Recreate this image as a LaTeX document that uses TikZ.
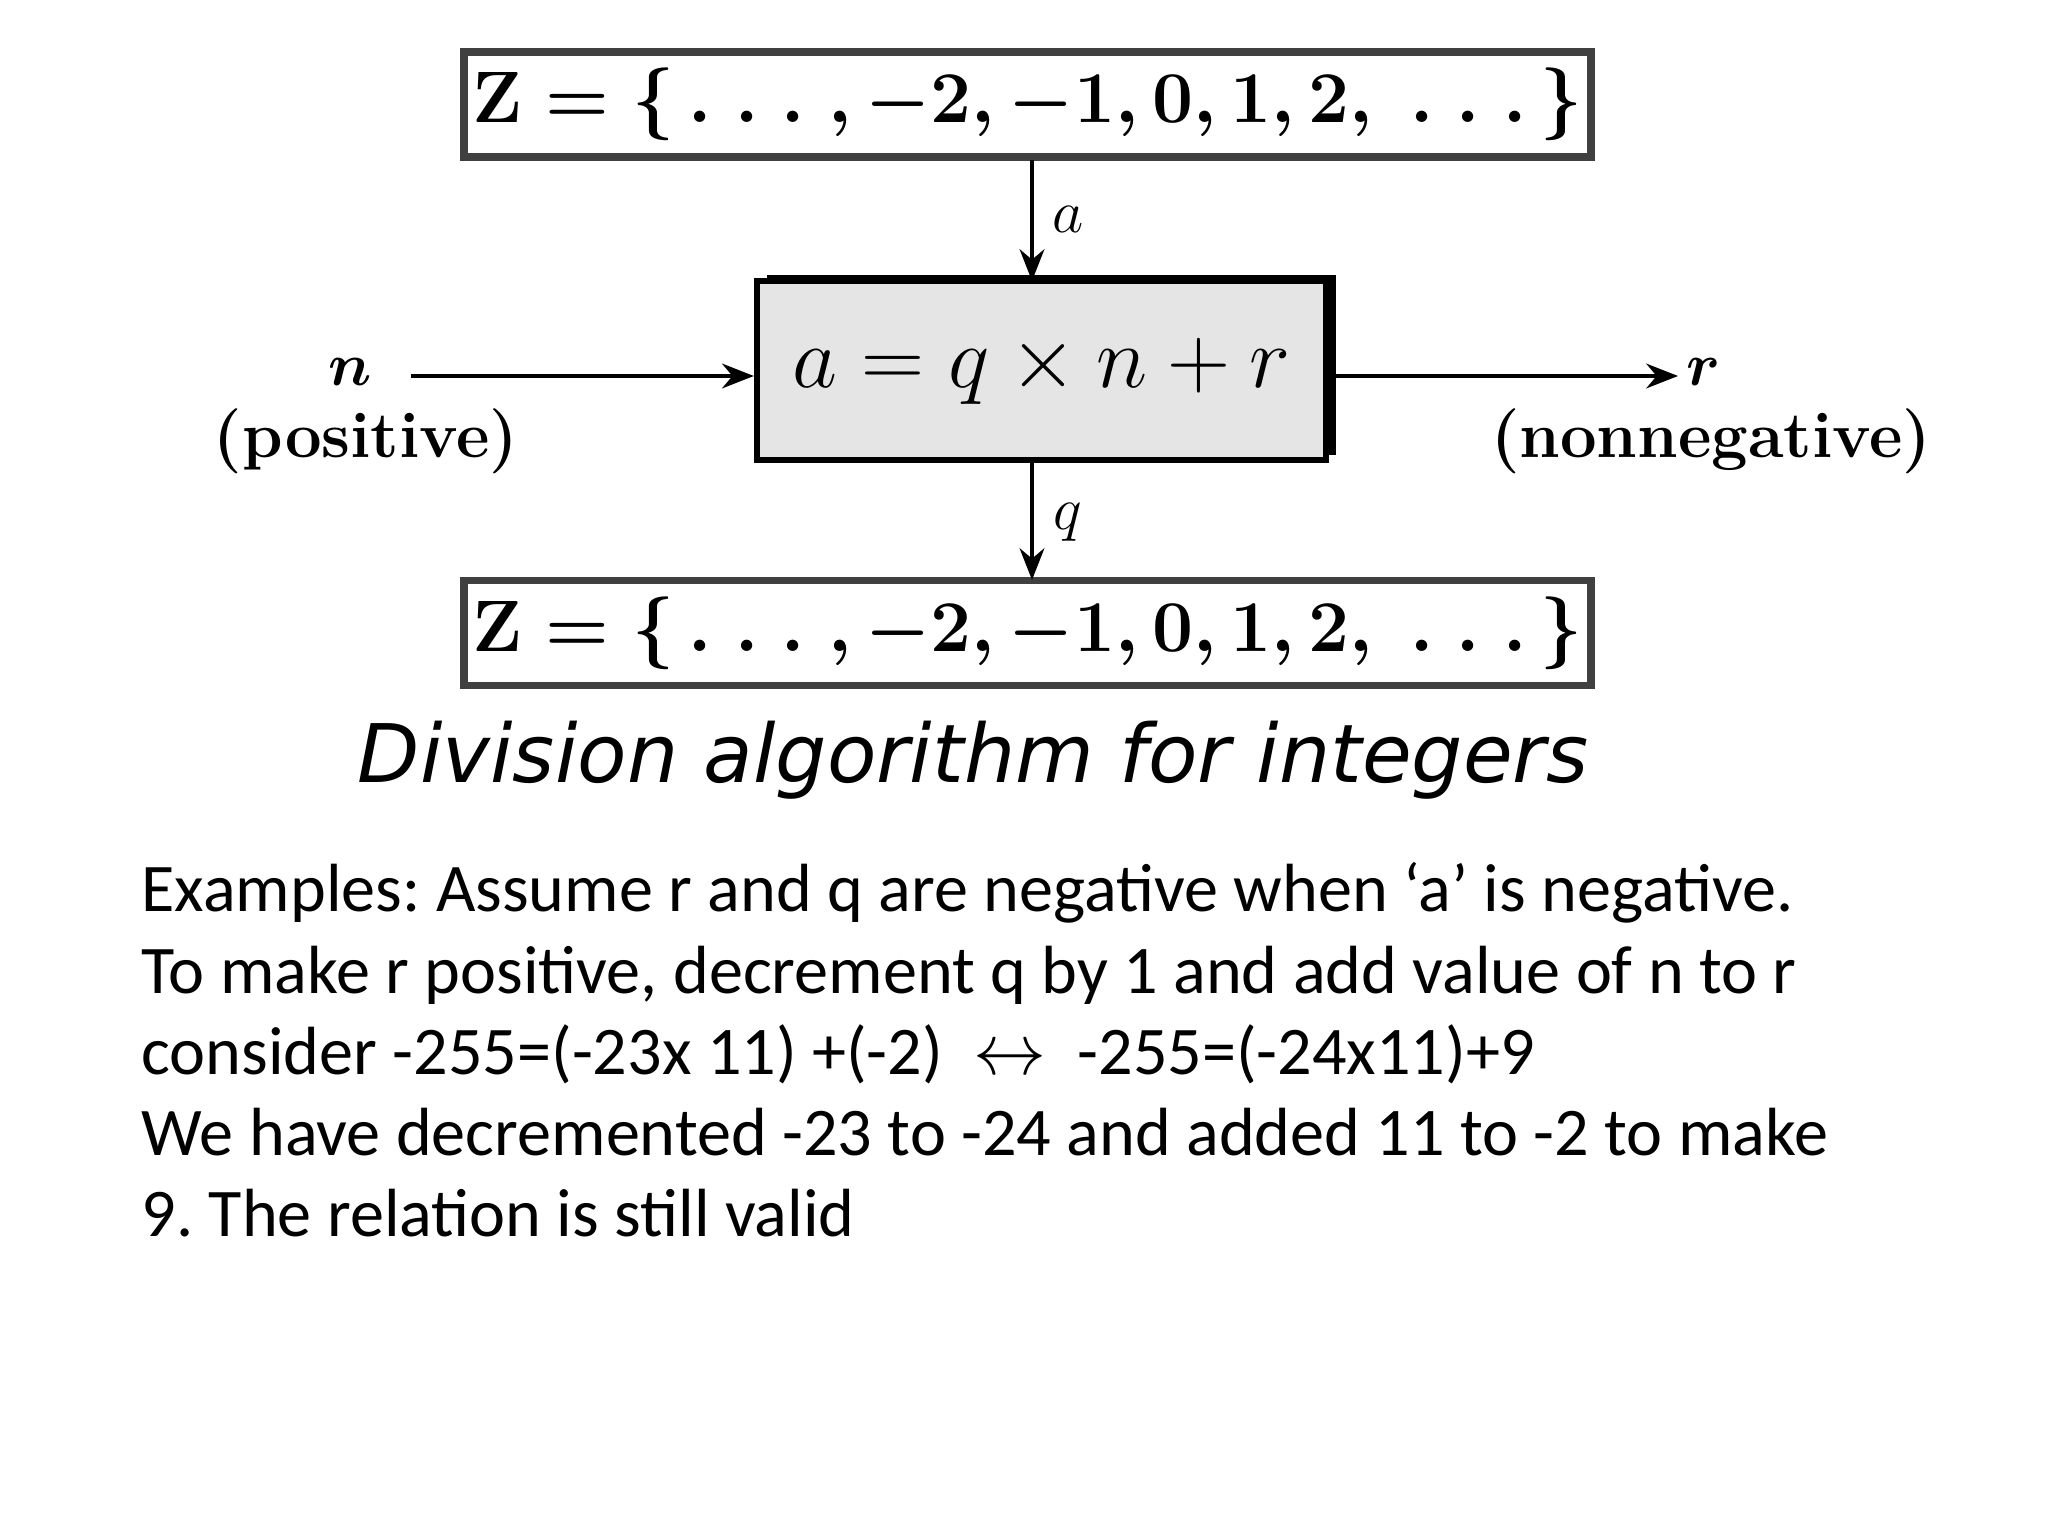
\documentclass[tikz,border=0pt]{standalone}
\usepackage{fontspec}
\usetikzlibrary{arrows.meta}
\newfontfamily\bodyfont{Carlito}
\newfontfamily\capfont{DejaVu Sans}
\frenchspacing
\begin{document}
\begin{tikzpicture}[x=1cm,y=1cm,
  zbox/.style={draw=black!75,line width=2.2pt,minimum width=11.27cm,minimum height=1.05cm,inner sep=0pt,font=\fontsize{20.5}{22}\selectfont\boldmath},
  arr/.style={-{Stealth[length=9pt,width=7pt]},line width=1.3pt},
  lbl/.style={font=\fontsize{18.5}{20}\selectfont\bfseries}]
\useasboundingbox (0,0) rectangle (20.48,-15.36);
\node[zbox] (top) at (10.275,-1.045) {$\mathbf{Z}=\{\,.\;.\;.\;,-2,-1,0,1,2,\;.\;.\;.\,\}$};
\node[zbox] (bot) at (10.275,-6.33) {$\mathbf{Z}=\{\,.\;.\;.\;,-2,-1,0,1,2,\;.\;.\;.\,\}$};
\fill[black] (7.67,-2.75) rectangle (13.36,-4.55);
\node[draw=black,line width=1.8pt,fill=black!10,minimum width=5.69cm,minimum height=1.79cm,inner sep=0pt,font=\fontsize{32.5}{34}\selectfont] (mid) at (10.415,-3.705) {$a=q\times n+r$};
\coordinate (nl) at (4.11,-3.76);
\coordinate (rr) at (16.78,-3.76);
\node[font=\fontsize{16}{18}\selectfont\boldmath] (n) at (3.5,-3.72) {$n$};
\node[lbl] (pos) at (3.66,-4.41) {(positive)};
\node[font=\fontsize{16}{18}\selectfont\boldmath] (r) at (17.04,-3.72) {$r$};
\node[lbl] (nonneg) at (17.11,-4.41) {(nonnegative)};
\draw[arr] (nl) -- (mid.west |- nl);
\draw[arr] (mid.east |- rr) -- (rr);
\draw[arr] (10.32,-1.6) -- (10.32,-2.81);
\draw[arr] (10.32,-4.6) -- (10.32,-5.8);
\node[font=\fontsize{18}{20}\selectfont] (la) at (10.68,-2.19) {$a$};
\node[font=\fontsize{18}{20}\selectfont] (lq) at (10.68,-5.22) {$q$};
\node[font=\capfont\itshape\fontsize{23}{25}\selectfont] (cap) at (9.73,-7.6) {Division algorithm for integers};
\node[anchor=north west,align=left,inner sep=0pt,font=\bodyfont\fontsize{19.4}{23.1}\selectfont] (txt) at (1.41,-8.62) {Examples: Assume r and q are negative when ‘a’ is negative.\\
To make r positive, decrement q by 1 and add value of n to r\\
consider -255=(-23x 11) +(-2) \ $\leftrightarrow$\ \ -255=(-24x11)+9\\
We have decremented -23 to -24 and added 11 to -2 to make\\
9. The relation is still valid};
\end{tikzpicture}
\end{document}
